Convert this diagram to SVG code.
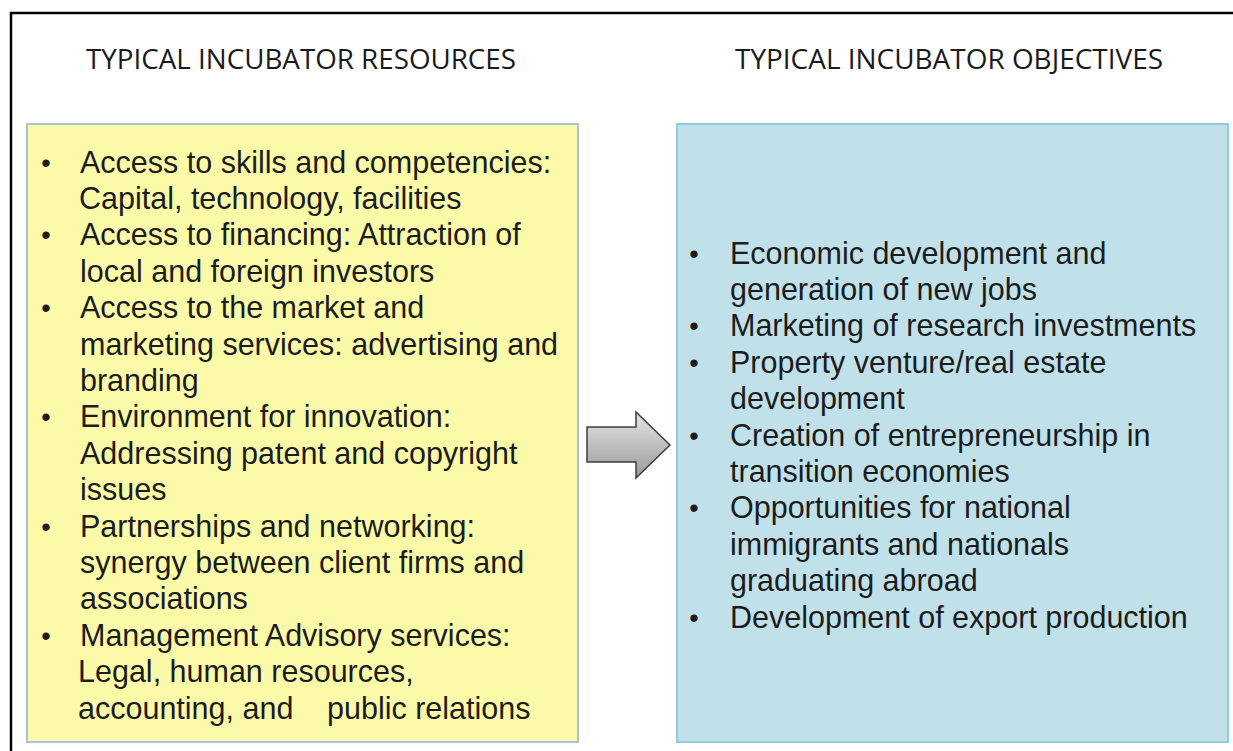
<svg xmlns="http://www.w3.org/2000/svg" width="1233" height="751" viewBox="0 0 1233 751">
  <defs>
    <linearGradient id="arrowFill" x1="0" y1="0" x2="0" y2="1">
      <stop offset="0" stop-color="#e4e4e4"/>
      <stop offset="1" stop-color="#9a9a9a"/>
    </linearGradient>
    <style>
      .title { font-family: "Open Sans", "Liberation Sans", sans-serif; font-size: 27px; fill: #1a1a1a; }
      .item { font-family: "Liberation Sans", Arial, sans-serif; font-size: 30.5px; fill: #1c1c1c; }
      .bullet { font-family: "Liberation Sans", Arial, sans-serif; font-size: 27px; fill: #1c1c1c; text-anchor: middle; }
      .frame { fill: none; stroke: #000; stroke-width: 2.5; }
    </style>
  </defs>

  <rect width="1233" height="751" fill="#fff"/>

  <!-- page frame: top and left edges -->
  <polyline class="frame" points="11,751 11,13 1233,13"/>

  <!-- headings -->
  <text class="title" x="86" y="69" textLength="430" lengthAdjust="spacingAndGlyphs">TYPICAL INCUBATOR RESOURCES</text>
  <text class="title" x="735" y="69" textLength="428" lengthAdjust="spacingAndGlyphs">TYPICAL INCUBATOR OBJECTIVES</text>

  <!-- resources box -->
  <g id="resources">
    <rect x="27" y="124" width="551" height="618" fill="#fbfaa9" stroke="#a9c3d9" stroke-width="2"/>
    <g transform="translate(0,1.5)">
      <text class="bullet" x="46" y="170">•</text>
      <text class="item" x="80" y="171">Access to skills and competencies:</text>
      <text class="item" x="79" y="207.4">Capital, technology, facilities</text>
      <text class="bullet" x="46" y="242.8">•</text>
      <text class="item" x="80" y="243.8">Access to financing: Attraction of</text>
      <text class="item" x="80" y="280.2">local and foreign investors</text>
      <text class="bullet" x="46" y="315.6">•</text>
      <text class="item" x="80" y="316.6">Access to the market and</text>
      <text class="item" x="80" y="353">marketing services: advertising and</text>
      <text class="item" x="80" y="389.4">branding</text>
      <text class="bullet" x="46" y="424.8">•</text>
      <text class="item" x="80" y="425.8">Environment for innovation:</text>
      <text class="item" x="80" y="462.2">Addressing patent and copyright</text>
      <text class="item" x="80" y="498.6">issues</text>
      <text class="bullet" x="46" y="534">•</text>
      <text class="item" x="80" y="535">Partnerships and networking:</text>
      <text class="item" x="80" y="571.4">synergy between client firms and</text>
      <text class="item" x="80" y="607.8">associations</text>
      <text class="bullet" x="46" y="643.2">•</text>
      <text class="item" x="80" y="644.2">Management Advisory services:</text>
      <text class="item" x="78" y="680.6">Legal, human resources,</text>
      <text class="item" y="717"><tspan x="78">accounting, and</tspan><tspan x="327">public relations</tspan></text>
    </g>
  </g>

  <!-- objectives box -->
  <g id="objectives">
    <rect x="677" y="124" width="551" height="618" fill="#c0e1ea" stroke="#92ccdc" stroke-width="2"/>
    <g transform="translate(0,1.5)">
      <text class="bullet" x="694" y="261">•</text>
      <text class="item" x="730" y="262">Economic development and</text>
      <text class="item" x="730" y="298.4">generation of new jobs</text>
      <text class="bullet" x="694" y="333.8">•</text>
      <text class="item" x="730" y="334.8">Marketing of research investments</text>
      <text class="bullet" x="694" y="370.2">•</text>
      <text class="item" x="730" y="371.2">Property venture/real estate</text>
      <text class="item" x="730" y="407.6">development</text>
      <text class="bullet" x="694" y="443">•</text>
      <text class="item" x="730" y="444">Creation of entrepreneurship in</text>
      <text class="item" x="730" y="480.4">transition economies</text>
      <text class="bullet" x="694" y="515.8">•</text>
      <text class="item" x="730" y="516.8">Opportunities for national</text>
      <text class="item" x="730" y="553.2">immigrants and nationals</text>
      <text class="item" x="730" y="589.6">graduating abroad</text>
      <text class="bullet" x="694" y="625">•</text>
      <text class="item" x="730" y="626">Development of export production</text>
    </g>
  </g>

  <!-- connector: block arrow from resources to objectives -->
  <g id="connectors">
    <polygon points="587,427 636,427 636,412 670,445 636,478 636,462 587,462" fill="url(#arrowFill)" stroke="#3c3c3c" stroke-width="1.5" stroke-linejoin="miter"/>
  </g>
</svg>
